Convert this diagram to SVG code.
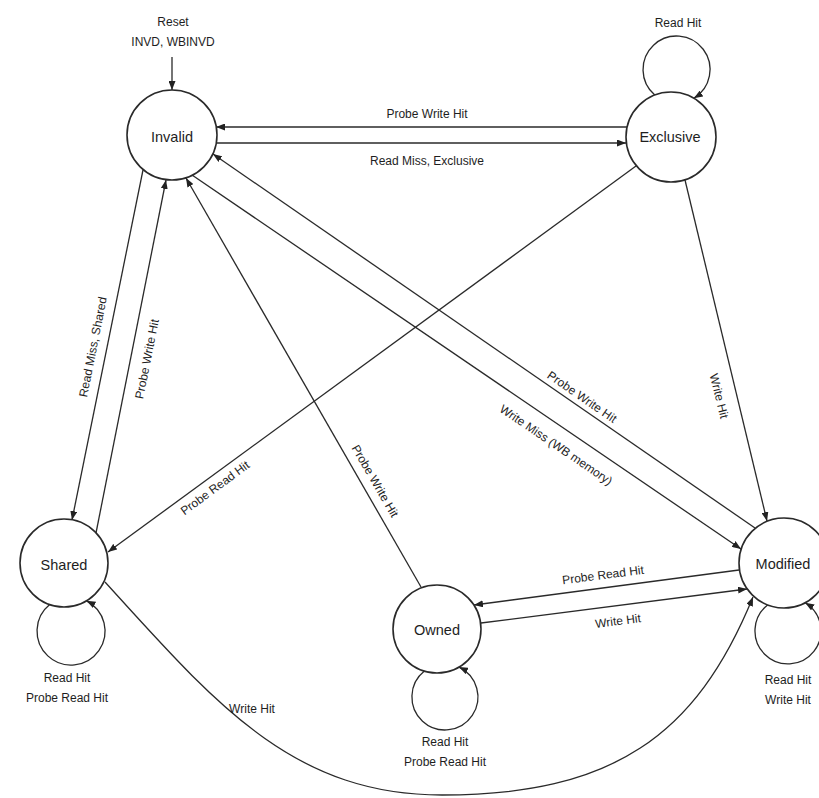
<svg xmlns="http://www.w3.org/2000/svg" width="819" height="798" viewBox="0 0 819 798">
  <defs>
    <marker id="arrow" viewBox="0 0 9 7" refX="9" refY="3.5" markerWidth="9" markerHeight="7" markerUnits="userSpaceOnUse" orient="auto">
      <path d="M0,0 L9,3.5 L0,7 z" fill="#222"/>
    </marker>
    <style>
      .edge { fill: none; stroke: #2a2a2a; stroke-width: 1.3; }
      .arr { marker-end: url(#arrow); }
      .state { fill: #fff; stroke: #2a2a2a; stroke-width: 1.6; }
      .name { font-family: "Liberation Sans", Arial, sans-serif; font-size: 14.5px; fill: #1e1e1e; text-anchor: middle; }
      .lbl { font-family: "Liberation Sans", Arial, sans-serif; font-size: 12px; fill: #1e1e1e; text-anchor: middle; }
    </style>
  </defs>

  <rect width="819" height="798" fill="#fff"/>

  <g id="connectors">
    <!-- reset entry -->
    <path class="edge arr" d="M172,57 L172,90"/>
    <text class="lbl" x="173" y="26">Reset</text>
    <text class="lbl" x="173" y="46">INVD, WBINVD</text>

    <!-- Invalid / Exclusive pair -->
    <path class="edge arr" d="M627,127 L216,127"/>
    <text class="lbl" x="427" y="118">Probe Write Hit</text>
    <path class="edge arr" d="M216,143 L626,143"/>
    <text class="lbl" x="427" y="165">Read Miss, Exclusive</text>

    <!-- Exclusive self loop -->
    <path class="edge arr" d="M654.8,95 A33.5,33.5 0 1 1 693.8,98.2"/>
    <text class="lbl" x="678" y="27">Read Hit</text>

    <!-- Invalid / Shared pair -->
    <path class="edge arr" d="M143,170 L72,520"/>
    <g transform="translate(93,347) rotate(-78.7)"><text class="lbl" x="0" y="4">Read Miss, Shared</text></g>
    <path class="edge arr" d="M96,533 L166,180"/>
    <g transform="translate(147,359) rotate(-78.7)"><text class="lbl" x="0" y="4">Probe Write Hit</text></g>

    <!-- Exclusive to Shared -->
    <path class="edge arr" d="M636,166 L108,552"/>
    <g transform="translate(215,488) rotate(-36.5)"><text class="lbl" x="0" y="4">Probe Read Hit</text></g>

    <!-- Owned to Invalid -->
    <path class="edge arr" d="M421,587 L186,178"/>
    <g transform="translate(375,481) rotate(59.8)"><text class="lbl" x="0" y="4">Probe Write Hit</text></g>

    <!-- Invalid / Modified pair -->
    <path class="edge arr" d="M755,528 L213,154"/>
    <g transform="translate(582,397) rotate(34.6)"><text class="lbl" x="0" y="4">Probe Write Hit</text></g>
    <path class="edge arr" d="M192,175 L741,549"/>
    <g transform="translate(556,445) rotate(34.2)"><text class="lbl" x="0" y="4">Write Miss (WB memory)</text></g>

    <!-- Exclusive to Modified -->
    <path class="edge arr" d="M685,180 L767,521"/>
    <g transform="translate(719,396) rotate(76)"><text class="lbl" x="0" y="4">Write Hit</text></g>

    <!-- Owned / Modified pair -->
    <path class="edge arr" d="M739,570 L474,605"/>
    <g transform="translate(603,575) rotate(-7.3)"><text class="lbl" x="0" y="4">Probe Read Hit</text></g>
    <path class="edge arr" d="M481,623 L747,589"/>
    <g transform="translate(618,621) rotate(-7.3)"><text class="lbl" x="0" y="4">Write Hit</text></g>

    <!-- Shared to Modified (long arc) -->
    <path class="edge arr" d="M105,582 C215,703 292,795 442,795 C612,795 696,736.5 753,597"/>
    <text class="lbl" x="252" y="713">Write Hit</text>

    <!-- Shared self loop -->
    <path class="edge arr" d="M49.7,604.6 A34,34 0 1 0 86.5,600.8"/>
    <text class="lbl" x="67" y="682">Read Hit</text>
    <text class="lbl" x="67" y="702">Probe Read Hit</text>

    <!-- Owned self loop -->
    <path class="edge arr" d="M424.4,671.1 A33,33 0 1 0 459,667.1"/>
    <text class="lbl" x="445" y="746">Read Hit</text>
    <text class="lbl" x="445" y="766">Probe Read Hit</text>

    <!-- Modified self loop -->
    <path class="edge arr" d="M767.6,604.9 A33,33 0 1 0 805.2,602.7"/>
    <text class="lbl" x="788" y="684">Read Hit</text>
    <text class="lbl" x="788" y="704">Write Hit</text>
  </g>

  <g id="node-invalid">
    <circle class="state" cx="172" cy="135" r="45"/>
    <text class="name" x="172" y="142">Invalid</text>
  </g>
  <g id="node-exclusive">
    <circle class="state" cx="671" cy="137" r="45"/>
    <text class="name" x="670" y="142">Exclusive</text>
  </g>
  <g id="node-shared">
    <circle class="state" cx="64" cy="563" r="44"/>
    <text class="name" x="64" y="570">Shared</text>
  </g>
  <g id="node-owned">
    <circle class="state" cx="437" cy="629" r="44"/>
    <text class="name" x="437" y="635">Owned</text>
  </g>
  <g id="node-modified">
    <circle class="state" cx="784" cy="563" r="45"/>
    <text class="name" x="783" y="569">Modified</text>
  </g>
</svg>
